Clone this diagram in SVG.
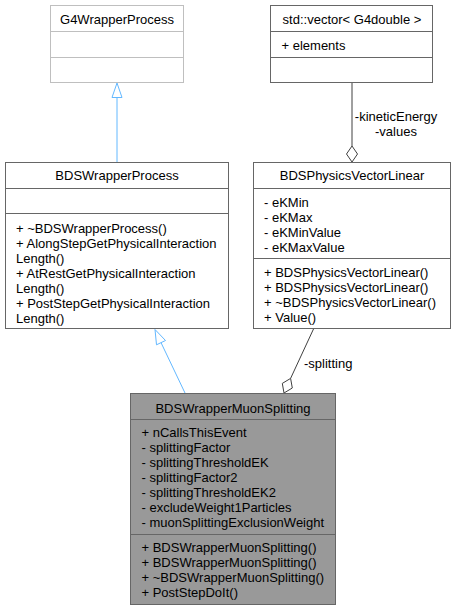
<svg xmlns="http://www.w3.org/2000/svg" width="456" height="612" viewBox="0 0 456 612">
<style>
text{font-family:"Liberation Sans",Arial,sans-serif;font-size:13px;fill:#000}
.c{text-anchor:middle}
.box{fill:#fff;stroke:#666;stroke-width:1}
.ext{fill:#fff;stroke:#bfbfbf;stroke-width:1}
.main{fill:#999;stroke:#666;stroke-width:1}
.sep{stroke:#666;stroke-width:1}
.sepx{stroke:#bfbfbf;stroke-width:1}
.inh{stroke:#63b8ff;stroke-width:1;fill:none}
.inhh{stroke:#63b8ff;stroke-width:1;fill:#fff}
.agg{stroke:#404040;stroke-width:1;fill:none}
.aggh{stroke:#404040;stroke-width:1;fill:#fff}
</style>
<rect width="456" height="612" fill="#fff"/>
<g id="connectors">
<line class="inh" x1="117" y1="162" x2="117" y2="97.5"/>
<polygon class="inhh" points="117,83 112,97.5 122,97.5"/>
<line class="inh" x1="185" y1="393" x2="161" y2="342.6"/>
<polygon class="inhh" points="155,329.5 165.5,340.5 156.5,344.8"/>
<line class="agg" x1="352" y1="83" x2="352" y2="146"/>
<polygon class="aggh" points="352,162 346.5,154 352,146 357.5,154"/>
<text class="c" x="396" y="121">-kineticEnergy</text>
<text class="c" x="396" y="136">-values</text>
<line class="agg" x1="313.5" y1="329" x2="290.6" y2="378.4"/>
<polygon class="aggh" points="284,393 282.3,383.4 290.6,378.4 292.3,388"/>
<text x="304" y="368">-splitting</text>
</g>
<g id="G4WrapperProcess">
<rect class="ext" x="50.5" y="5.5" width="133" height="77"/>
<line class="sepx" x1="50.5" y1="31.5" x2="183.5" y2="31.5"/>
<line class="sepx" x1="50.5" y1="57.5" x2="183.5" y2="57.5"/>
<text class="c" x="117" y="24">G4WrapperProcess</text>
</g>
<g id="stdvector">
<rect class="box" x="270.5" y="5.5" width="162" height="77"/>
<line class="sep" x1="270.5" y1="31.5" x2="432.5" y2="31.5"/>
<line class="sep" x1="270.5" y1="57.5" x2="432.5" y2="57.5"/>
<text class="c" x="352" y="24">std::vector&lt; G4double &gt;</text>
<text x="281.5" y="49.5">+ elements</text>
</g>
<g id="BDSWrapperProcess">
<rect class="box" x="5.5" y="162.5" width="223" height="166"/>
<line class="sep" x1="5.5" y1="188.5" x2="228.5" y2="188.5"/>
<line class="sep" x1="5.5" y1="213.5" x2="228.5" y2="213.5"/>
<text class="c" x="117" y="180">BDSWrapperProcess</text>
<text x="16" y="232.5">+ ~BDSWrapperProcess()</text>
<text x="16" y="247.5">+ AlongStepGetPhysicalInteraction</text>
<text x="16" y="262.5">Length()</text>
<text x="16" y="277.5">+ AtRestGetPhysicalInteraction</text>
<text x="16" y="292.5">Length()</text>
<text x="16" y="307.5">+ PostStepGetPhysicalInteraction</text>
<text x="16" y="322.5">Length()</text>
</g>
<g id="BDSPhysicsVectorLinear">
<rect class="box" x="253.5" y="162.5" width="197" height="166"/>
<line class="sep" x1="253.5" y1="188.5" x2="450.5" y2="188.5"/>
<line class="sep" x1="253.5" y1="258.5" x2="450.5" y2="258.5"/>
<text class="c" x="352" y="180">BDSPhysicsVectorLinear</text>
<text x="264" y="206.8">- eKMin</text>
<text x="264" y="221.8">- eKMax</text>
<text x="264" y="236.8">- eKMinValue</text>
<text x="264" y="251.8">- eKMaxValue</text>
<text x="264" y="276.8">+ BDSPhysicsVectorLinear()</text>
<text x="264" y="291.8">+ BDSPhysicsVectorLinear()</text>
<text x="264" y="306.8">+ ~BDSPhysicsVectorLinear()</text>
<text x="264" y="321.8">+ Value()</text>
</g>
<g id="BDSWrapperMuonSplitting">
<rect class="main" x="130.5" y="393.5" width="205" height="211"/>
<line class="sep" x1="130.5" y1="419.5" x2="335.5" y2="419.5"/>
<line class="sep" x1="130.5" y1="534.5" x2="335.5" y2="534.5"/>
<text class="c" x="233" y="412.5">BDSWrapperMuonSplitting</text>
<text x="141.5" y="437.2">+ nCallsThisEvent</text>
<text x="141.5" y="452.2">- splittingFactor</text>
<text x="141.5" y="467.2">- splittingThresholdEK</text>
<text x="141.5" y="482.2">- splittingFactor2</text>
<text x="141.5" y="497.2">- splittingThresholdEK2</text>
<text x="141.5" y="512.2">- excludeWeight1Particles</text>
<text x="141.5" y="527.2">- muonSplittingExclusionWeight</text>
<text x="141.5" y="552.2">+ BDSWrapperMuonSplitting()</text>
<text x="141.5" y="567.2">+ BDSWrapperMuonSplitting()</text>
<text x="141.5" y="582.2">+ ~BDSWrapperMuonSplitting()</text>
<text x="141.5" y="597.2">+ PostStepDoIt()</text>
</g>
</svg>
